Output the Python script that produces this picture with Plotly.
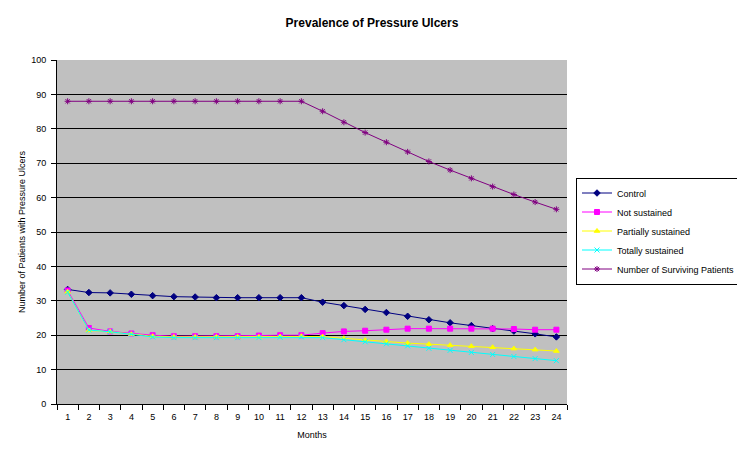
import plotly.graph_objects as go

# ---------------------------------------- DATA ----------------------------------------

months = [str(m) for m in range(1, 25)]

control = [33.3, 32.4, 32.3, 31.9, 31.5, 31.2, 31.1, 30.9, 30.9, 30.9, 30.9, 30.9,
           29.6, 28.6, 27.5, 26.6, 25.5, 24.5, 23.6, 22.8, 21.9, 21.2, 20.4, 19.5]
not_sustained = [33.0, 22.1, 21.1, 20.5, 20.0, 19.7, 19.7, 19.7, 19.7, 19.9, 20.0, 20.0,
                 20.6, 21.1, 21.3, 21.6, 21.9, 21.9, 21.9, 21.9, 21.9, 21.8, 21.6, 21.6]
partially = [32.6, 21.4, 21.0, 20.3, 19.7, 19.5, 19.5, 19.5, 19.5, 19.5, 19.6, 19.7,
             19.6, 19.1, 18.6, 18.2, 17.7, 17.4, 17.1, 16.8, 16.5, 16.1, 15.8, 15.4]
totally = [32.5, 21.5, 21.0, 20.3, 19.5, 19.3, 19.3, 19.3, 19.3, 19.3, 19.4, 19.5,
           19.3, 18.7, 18.1, 17.5, 16.9, 16.2, 15.6, 15.0, 14.4, 13.8, 13.2, 12.6]
surviving = [88, 88, 88, 88, 88, 88, 88, 88, 88, 88, 88, 88,
             85.1, 81.9, 78.9, 76.1, 73.3, 70.5, 68.0, 65.6, 63.2, 60.9, 58.7, 56.6]

# ---------------------------------------- SERIES ----------------------------------------

series = [
    ("Control", control, "#000080", "diamond", 5),
    ("Not sustained", not_sustained, "#FF00FF", "square", 5),
    ("Partially sustained", partially, "#FFFF00", "triangle-up", 5),
    ("Totally sustained", totally, "#00FFFF", "x-thin-open", 5),
    ("Number of Surviving Patients", surviving, "#800080", "asterisk-open", 5),
]

fig = go.Figure()
for name, vals, col, sym, size in series:
    fig.add_trace(go.Scatter(
        x=months, y=vals, name=name, mode="lines+markers",
        line=dict(color=col, width=1),
        marker=dict(symbol=sym, size=size, color=col, line=dict(color=col, width=1)),
    ))

font = "Liberation Sans, Arial, sans-serif"

# page body has an 8px margin, so the figure is 8px smaller than the window
W, H = 737, 450
# plot area in window pixels: x 57..567, y 60..404
fig.update_layout(
    width=W, height=H,
    margin=dict(l=49, r=178, t=52, b=54, autoexpand=False),
    paper_bgcolor="white",
    plot_bgcolor="#C0C0C0",
    font=dict(family=font, size=9, color="black"),
    title=dict(text="<b>Prevalence of Pressure Ulcers</b>", x=(372 - 8) / W,
               xanchor="center", y=1 - 15 / H, yanchor="middle",
               font=dict(size=12, family=font)),
    legend=dict(x=(741 - 57) / 510, xanchor="right", y=(404 - 231) / 344, yanchor="middle",
                bordercolor="black", borderwidth=1, bgcolor="white",
                font=dict(size=9, family=font), tracegroupgap=0),
    showlegend=True,
)

fig.update_xaxes(
    type="category", range=[-0.5, 23.5], tickson="boundaries",
    ticks="outside", ticklen=5, tickcolor="black", ticklabelstandoff=4,
    showline=True, linecolor="black", linewidth=1, mirror=False,
    showgrid=False, automargin=False,
    title=dict(text="Months", font=dict(size=9), standoff=10),
)
fig.update_yaxes(
    range=[0, 100], dtick=10, ticks="outside", ticklen=5, tickcolor="black",
    ticklabelstandoff=3,
    showline=True, linecolor="black", linewidth=1,
    showgrid=True, gridcolor="black", gridwidth=1, zeroline=False, automargin=False,
    title=dict(text="Number of Patients with Pressure Ulcers", font=dict(size=9), standoff=4),
)

fig.write_html("out.html")
